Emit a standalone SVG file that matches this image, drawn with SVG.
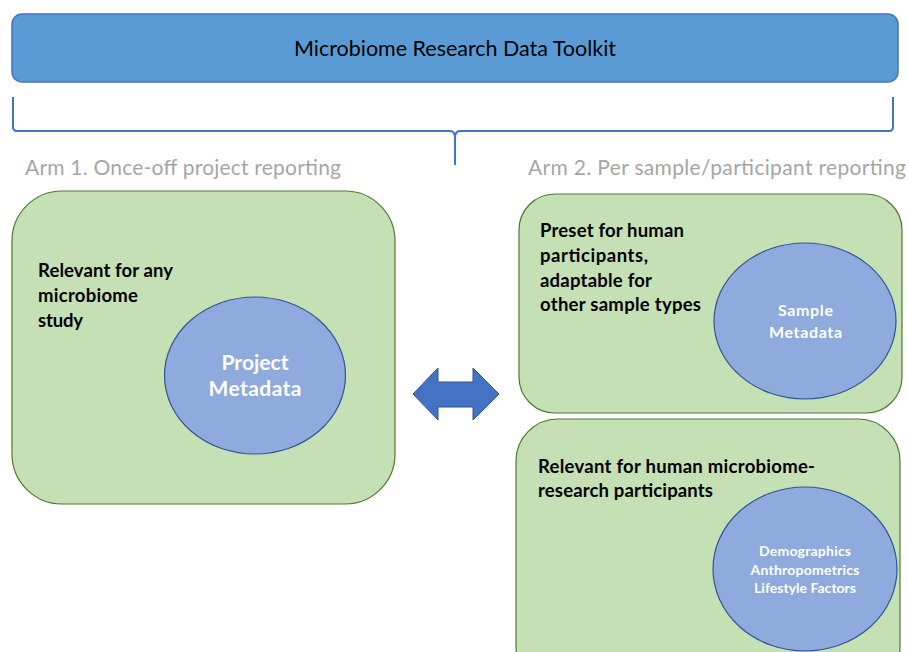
<svg xmlns="http://www.w3.org/2000/svg" width="908" height="652" viewBox="0 0 908 652">
  <style>
    .bar { fill: #5b9bd5; stroke: #4472c4; stroke-width: 1.5; }
    .panel { fill: #c5e0b4; stroke: #4e7a30; stroke-width: 1.2; }
    .bubble { fill: #8faadc; stroke: #2f5597; stroke-width: 1.2; }
    .brace { fill: none; stroke: #4472c4; stroke-width: 2; }
    .title { font-family: Lato, "Open Sans", sans-serif; font-size: 21.5px; fill: #000; }
    .arm { font-family: Lato, "Open Sans", sans-serif; font-size: 21px; fill: #a6a6a6; }
    .note { font-family: Lato, "Open Sans", sans-serif; font-size: 18.5px; font-weight: bold; fill: #000; }
    .inner { font-family: Lato, "Open Sans", sans-serif; font-weight: bold; fill: #fff; text-anchor: middle; }
  </style>

  <!-- header bar -->
  <g id="toolkit">
    <rect class="bar" x="12" y="14" width="886" height="68" rx="10"/>
    <text class="title" x="455" y="56" text-anchor="middle" textLength="322" lengthAdjust="spacing">Microbiome Research Data Toolkit</text>
  </g>

  <!-- connectors: brace and double arrow -->
  <g id="connectors">
    <path class="brace" d="M13,97 V127 Q13,131 17,131 H450 Q455,131 455,138 V165 M455,138 Q455,131 460,131 H889 Q893,131 893,127 V97"/>
    <path d="M413,394 L438,368 V382 H473 V368 L499,394 L473,420 V407 H438 V420 Z" fill="#4472c4" stroke="#2f528f" stroke-width="1"/>
  </g>

  <!-- arm headings -->
  <text class="arm" x="25" y="175" textLength="316" lengthAdjust="spacing">Arm 1. Once-off project reporting</text>
  <text class="arm" x="528" y="175" textLength="378" lengthAdjust="spacing">Arm 2. Per sample/participant reporting</text>

  <!-- arm 1 panel -->
  <g id="project">
    <rect class="panel" x="12" y="191" width="383" height="313" rx="50"/>
    <text class="note" x="38" y="277" textLength="135" lengthAdjust="spacing">Relevant for any</text>
    <text class="note" x="38" y="302" textLength="100" lengthAdjust="spacing">microbiome</text>
    <text class="note" x="38" y="327" textLength="45" lengthAdjust="spacing">study</text>
    <ellipse class="bubble" cx="255" cy="375.5" rx="90.5" ry="78.5"/>
    <text class="inner" x="255" y="370" font-size="21" textLength="67" lengthAdjust="spacing">Project</text>
    <text class="inner" x="255" y="396" font-size="21" textLength="93" lengthAdjust="spacing">Metadata</text>
  </g>

  <!-- arm 2 upper panel -->
  <g id="sample">
    <rect class="panel" x="519" y="194" width="383" height="219" rx="36"/>
    <text class="note" x="540" y="237" textLength="144" lengthAdjust="spacing">Preset for human</text>
    <text class="note" x="540" y="262" textLength="108" lengthAdjust="spacing">participants,</text>
    <text class="note" x="540" y="287" textLength="112" lengthAdjust="spacing">adaptable for</text>
    <text class="note" x="540" y="311" textLength="161" lengthAdjust="spacing">other sample types</text>
    <ellipse class="bubble" cx="805" cy="321" rx="91" ry="78"/>
    <text class="inner" x="805.5" y="316" font-size="16" textLength="55" lengthAdjust="spacing">Sample</text>
    <text class="inner" x="805.5" y="338" font-size="16" textLength="73" lengthAdjust="spacing">Metadata</text>
  </g>

  <!-- arm 2 lower panel -->
  <g id="participant">
    <rect class="panel" x="516" y="419" width="384" height="270" rx="42"/>
    <text class="note" x="538" y="473" textLength="277" lengthAdjust="spacing">Relevant for human microbiome-</text>
    <text class="note" x="538" y="497" textLength="175" lengthAdjust="spacing">research participants</text>
    <ellipse class="bubble" cx="805" cy="569" rx="92" ry="82"/>
    <text class="inner" x="805" y="556" font-size="14" textLength="92" lengthAdjust="spacing">Demographics</text>
    <text class="inner" x="805" y="575" font-size="14" textLength="109" lengthAdjust="spacing">Anthropometrics</text>
    <text class="inner" x="805" y="593" font-size="14" textLength="102" lengthAdjust="spacing">Lifestyle Factors</text>
  </g>
</svg>
